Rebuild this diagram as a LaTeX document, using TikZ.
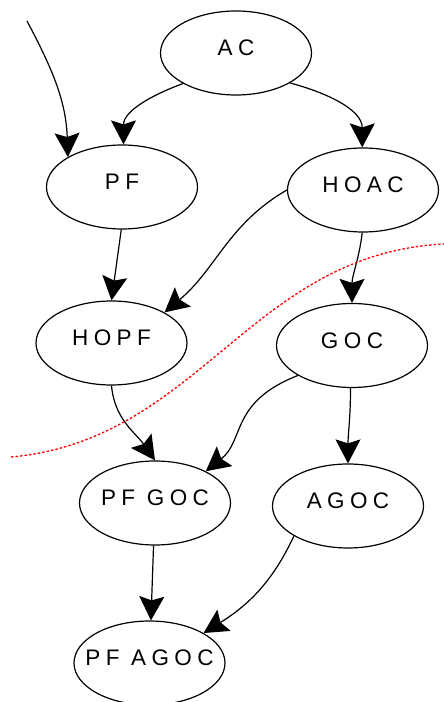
\documentclass[tikz,border=0pt]{standalone}
\usepackage{fontspec}
\newfontfamily\labfont[LetterSpace=24]{Liberation Sans}
\usetikzlibrary{shapes.geometric,arrows.meta}
\tikzset{
  state/.style={ellipse, draw, line width=1.2pt, minimum width=151pt, minimum height=84pt,
    inner xsep=-15pt, inner ysep=0pt, text height=16pt, text depth=10pt,
    font=\labfont\fontsize{22.5}{26}\selectfont},
  edge/.style={line width=1.2pt, -{Stealth[length=24pt,width=25pt,inset=4pt]}}
}
\begin{document}
\begin{tikzpicture}[x=1pt,y=1pt]
  \useasboundingbox (0,0) rectangle (444,702);
  \node[state] (ac) at (236,649) {AC};
  \node[state] (pf) at (122,515) {PF};
  \node[state] (hoac) at (363,512) {HOAC};
  \node[state] (hopf) at (111.5,359) {HOPF};
  \node[state] (goc) at (352,356.5) {GOC};
  \node[state] (pfgoc) at (155,199) {PF GOC};
  \node[state] (agoc) at (348,196) {AGOC};
  \node[state] (pfagoc) at (149.5,39) {PF AGOC};
  \coordinate (start) at (27,681);
  \draw[edge] (start) to[out=-62,in=92] (pf.151);
  \draw[edge] (ac.210) to[out=200,in=90] (pf.88);
  \draw[edge] (ac.331) to[out=-15,in=90] (hoac.91);
  \draw[edge] (pf.-91) -- (hopf.90);
  \draw[edge] (hoac.180) to[out=210,in=40] (hopf.30);
  \draw[edge] (hoac.-91) to[out=-97,in=90] (goc.90);
  \draw[edge] (hopf.-90) to[out=-85,in=125] (pfgoc.90);
  \draw[edge] (goc.209) .. controls (230,300) and (245,262) .. (pfgoc.32);
  \draw[edge] (goc.-92) to[out=-90,in=90] (agoc.90);
  \draw[edge] (pfgoc) -- (pfagoc);
  \draw[edge] (agoc.209) to[out=245,in=32] (pfagoc.29);
  \draw[red, line width=1.3pt, dash pattern=on 2.5pt off 2pt]
    (11,245) .. controls (200,262) and (250,448) .. (444,458);
\end{tikzpicture}
\end{document}
